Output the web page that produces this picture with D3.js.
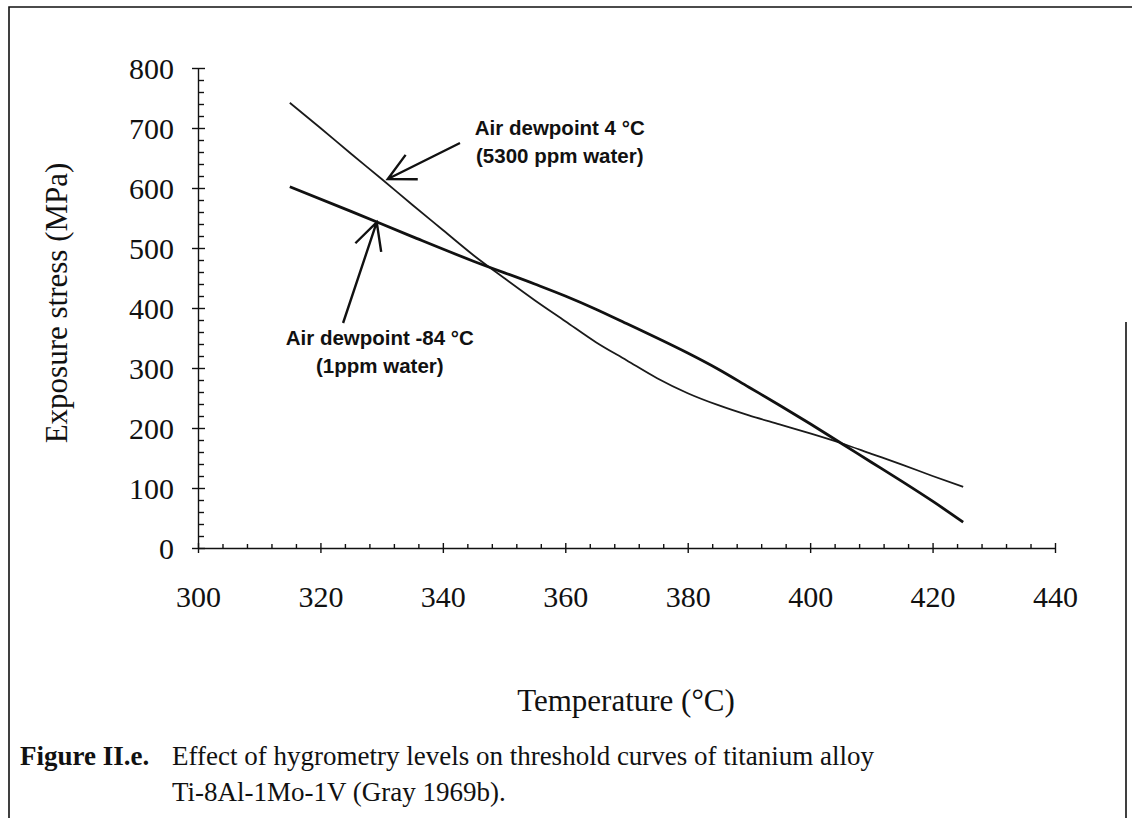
<!DOCTYPE html>
<html>
<meta charset="UTF-8">
<style>
body { margin: 0; background: #fff; }
svg { display: block; }
.tick text { font-family: "Liberation Serif", "Times New Roman", serif; font-size: 30px; fill: #111; }
.domain, .tick line { stroke: #111; stroke-width: 1.4px; }
.title { font-family: "Liberation Serif", "Times New Roman", serif; font-size: 31px; fill: #111; }
.note { font-family: "Liberation Sans", Arial, sans-serif; font-size: 20.5px; font-weight: bold; fill: #111; }
.caption { font-family: "Liberation Serif", "Times New Roman", serif; font-size: 27px; fill: #111; }
</style>
<svg width="1132" height="818"></svg>
<script src="https://d3js.org/d3.v7.min.js"></script>
<script>
// axis ticks
var tempTicks = [300, 320, 340, 360, 380, 400, 420, 440];
var stressTicks = [0, 100, 200, 300, 400, 500, 600, 700, 800];

// air dewpoint -84 C (1 ppm water), heavy line
var dryTemp   = [315, 325, 335, 345, 355, 360, 365, 370, 375, 380, 385, 390, 395, 400, 405, 410, 415, 420, 425];
var dryStress = [602, 561, 519, 478, 440, 420, 398, 374, 350, 325, 298, 268, 238, 207, 175, 143, 111, 78, 43];

// air dewpoint 4 C (5300 ppm water), thin line
var wetTemp   = [315, 320, 325, 330, 335, 340, 345, 350, 355, 360, 365, 370, 375, 380, 385, 390, 395, 400, 405, 410, 415, 420, 425];
var wetStress = [742, 700, 657, 615, 572, 530, 488, 450, 413, 378, 343, 313, 283, 258, 238, 221, 206, 191, 175, 157, 139, 120, 102];

// annotations (data units)
var wetLabel = ["Air dewpoint 4 \u00B0C", "(5300 ppm water)"];
var dryLabel = ["Air dewpoint -84 \u00B0C", "(1ppm water)"];

var svg = d3.select("svg");

//	scales
var x = d3.scaleLinear().domain([300, 440]).range([198, 1055]);
var y = d3.scaleLinear().domain([0, 800]).range([548, 68]);

//	page frame (scanned figure box)
svg.append("path")
	.attr("d", "M9,818 V7 H1132 M1126,322 V818")
	.attr("fill", "none")
	.attr("stroke", "#111")
	.attr("stroke-width", 1.6);

//	minor ticks
svg.append("g")
	.attr("transform", "translate(0," + y(0) + ")")
	.call(d3.axisTop(x).tickValues(d3.range(304, 440, 4).filter(function(d) { return d % 20; })).tickSize(4).tickFormat(""))
	.call(function(g) { g.select(".domain").remove(); });

svg.append("g")
	.attr("transform", "translate(" + x(300) + ",0)")
	.call(d3.axisRight(y).tickValues(d3.range(20, 800, 20).filter(function(d) { return d % 100; })).tickSize(6).tickFormat(""))
	.call(function(g) { g.select(".domain").remove(); });

//	major axes, ticks cross the axis line
var xAxis = svg.append("g")
	.attr("transform", "translate(0," + y(0) + ")")
	.call(d3.axisBottom(x).tickValues(tempTicks).tickSize(5).tickSizeOuter(0).tickPadding(33));
xAxis.selectAll(".tick line").attr("y1", -5);

var yAxis = svg.append("g")
	.attr("transform", "translate(" + x(300) + ",0)")
	.call(d3.axisLeft(y).tickValues(stressTicks).tickSize(6).tickSizeOuter(0).tickPadding(18));
yAxis.selectAll(".tick line").attr("x1", 7);
yAxis.selectAll(".tick text").attr("dy", "0.34em");

//	axis titles
svg.append("text")
	.attr("class", "title")
	.attr("transform", "translate(67,303) rotate(-90)")
	.attr("text-anchor", "middle")
	.text("Exposure stress (MPa)");

svg.append("text")
	.attr("class", "title")
	.attr("x", 626)
	.attr("y", 711)
	.attr("text-anchor", "middle")
	.text("Temperature (\u00B0C)");

//	curves
var line = d3.line()
	.x(function(d) { return x(d[0]); })
	.y(function(d) { return y(d[1]); })
	.curve(d3.curveMonotoneX);

svg.append("path")
	.datum(d3.zip(wetTemp, wetStress))
	.attr("d", line)
	.attr("fill", "none")
	.attr("stroke", "#1a1a1a")
	.attr("stroke-width", 1.8);

svg.append("path")
	.datum(d3.zip(dryTemp, dryStress))
	.attr("d", line)
	.attr("fill", "none")
	.attr("stroke", "#111")
	.attr("stroke-width", 2.8);

//	arrows with open heads
function arrow(tail, tip) {
	var tx = x(tip[0]), ty = y(tip[1]),
		sx = x(tail[0]), sy = y(tail[1]),
		a = Math.atan2(sy - ty, sx - tx),
		len = 30, spread = 27 * Math.PI / 180;
	var p = d3.path();
	p.moveTo(sx, sy); p.lineTo(tx, ty);
	p.moveTo(tx + len * Math.cos(a - spread), ty + len * Math.sin(a - spread));
	p.lineTo(tx, ty);
	p.lineTo(tx + len * Math.cos(a + spread), ty + len * Math.sin(a + spread));
	svg.append("path")
		.attr("d", p.toString())
		.attr("fill", "none")
		.attr("stroke", "#111")
		.attr("stroke-width", 2.4);
}
arrow([342.8, 675], [331.0, 615]);
arrow([323.7, 375], [329.2, 543]);

function note(lines, t, v) {
	svg.append("text")
		.attr("class", "note")
		.attr("text-anchor", "middle")
		.selectAll("tspan")
		.data(lines)
		.join("tspan")
		.attr("x", x(t))
		.attr("y", function(d, i) { return y(v) + i * 28; })
		.text(function(d) { return d; });
}
note(wetLabel, 359.1, 688);
note(dryLabel, 329.7, 338);

//	caption
var cap = svg.append("g").attr("class", "caption");
cap.append("text").attr("x", 20).attr("y", 765)
	.style("font-weight", "bold").text("Figure II.e.");
cap.append("text").attr("x", 172).attr("y", 765)
	.text("Effect of hygrometry levels on threshold curves of titanium alloy");
cap.append("text").attr("x", 172).attr("y", 801)
	.text("Ti-8Al-1Mo-1V (Gray 1969b).");
</script>
</html>
